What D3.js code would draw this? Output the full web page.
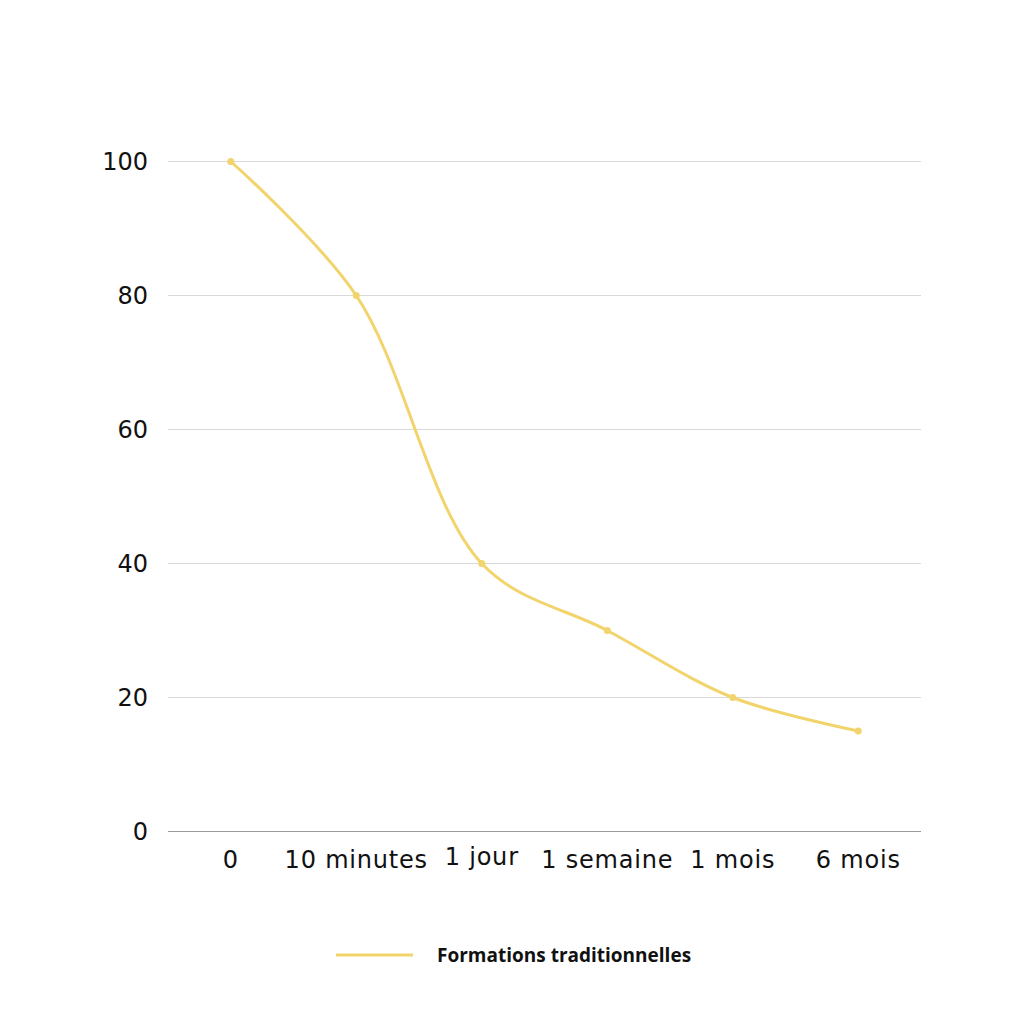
<!DOCTYPE html>
<html>
<head>
<meta charset="utf-8">
<script src="https://cdn.jsdelivr.net/npm/d3@7"></script>
<style>
  body { margin: 0; background: #fff; }
  text { font-family: "Open Sans", sans-serif; }
  .tick-label { font-family: "DejaVu Sans", sans-serif; }
</style>
</head>
<body>
<svg id="chart" width="1024" height="1024"></svg>
<script>
var categories = ["0", "10 minutes", "1 jour", "1 semaine", "1 mois", "6 mois"];
var values = [100, 80, 40, 30, 20, 15];
var yTicks = [0, 20, 40, 60, 80, 100];
var seriesName = "Formations traditionnelles";

var svg = d3.select("#chart");
var lineColor = "#f2d46c";

var x = d3.scaleBand().domain(categories).range([168, 921]);
var y = d3.scaleLinear().domain([0, 100]).range([831.5, 161.5]);

// gridlines
svg.append("g")
  .selectAll("line")
  .data(yTicks.filter(function(d) { return d > 0; }))
  .enter()
  .append("line")
  .attr("x1", 168)
  .attr("x2", 921)
  .attr("y1", function(d) { return y(d); })
  .attr("y2", function(d) { return y(d); })
  .attr("stroke", "#d9d9d9")
  .attr("stroke-width", 1);

// baseline
svg.append("line")
  .attr("x1", 168).attr("x2", 921)
  .attr("y1", y(0)).attr("y2", y(0))
  .attr("stroke", "#9a9a9a")
  .attr("stroke-width", 1.2);

// y labels
svg.append("g")
  .selectAll("text")
  .data(yTicks)
  .enter()
  .append("text")
  .attr("class", "tick-label")
  .attr("x", 148)
  .attr("y", function(d) { return y(d); })
  .attr("dy", "0.36em")
  .attr("text-anchor", "end")
  .style("font-size", "24px")
  .style("fill", "#111")
  .text(function(d) { return d; });

// x labels
svg.append("g")
  .selectAll("text")
  .data(categories)
  .enter()
  .append("text")
  .attr("class", "tick-label")
  .attr("x", function(d) { return x(d) + x.bandwidth() / 2; })
  .attr("y", function(d) { return d == "1 jour" ? 865 : 868; })
  .attr("text-anchor", "middle")
  .style("font-size", "24px")
  .style("letter-spacing", "0.8px")
  .style("fill", "#111")
  .text(function(d) { return d; });

var points = categories.map(function(c, i) {
  return { cat: c, value: values[i] };
});

var line = d3.line()
  .x(function(d) { return x(d.cat) + x.bandwidth() / 2; })
  .y(function(d) { return y(d.value); })
  .curve(d3.curveCatmullRom.alpha(0.5));

svg.append("path")
  .datum(points)
  .attr("d", line)
  .attr("fill", "none")
  .attr("stroke", lineColor)
  .attr("stroke-width", 3);

svg.append("g")
  .selectAll("circle")
  .data(points)
  .enter()
  .append("circle")
  .attr("cx", function(d) { return x(d.cat) + x.bandwidth() / 2; })
  .attr("cy", function(d) { return y(d.value); })
  .attr("r", 3.5)
  .attr("fill", lineColor);

// legend
var legend = svg.append("g").attr("transform", "translate(336,955)");
legend.append("line")
  .attr("x1", 0).attr("x2", 77)
  .attr("y1", 0).attr("y2", 0)
  .attr("stroke", lineColor)
  .attr("stroke-width", 3);
legend.append("text")
  .attr("x", 101)
  .attr("y", 0)
  .attr("dy", "0.36em")
  .style("font-size", "19px")
  .style("font-weight", "bold")
  .style("fill", "#111")
  .text(seriesName);
</script>
</body>
</html>
